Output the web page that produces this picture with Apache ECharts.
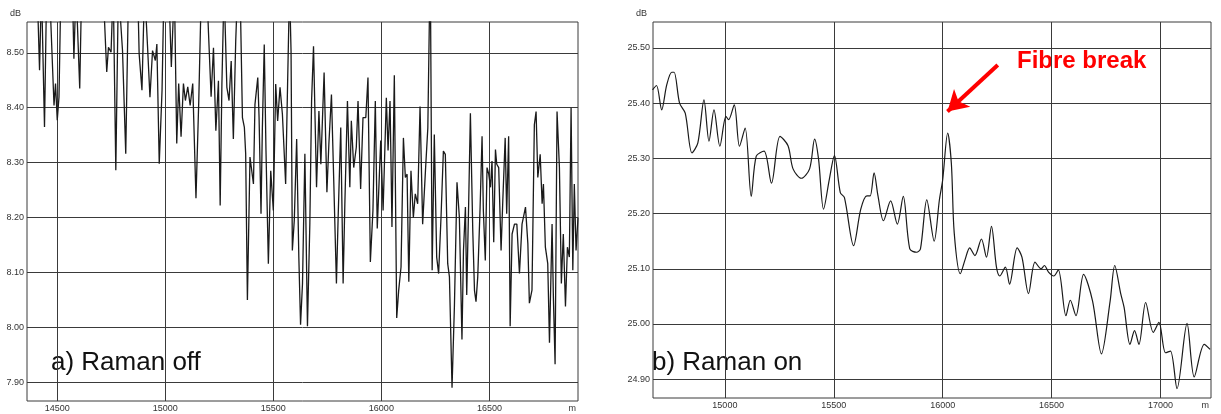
<!DOCTYPE html>
<html>
<head>
<meta charset="utf-8">
<script src="https://cdn.jsdelivr.net/npm/echarts@6/dist/echarts.min.js"></script>
<style>
  html, body { margin: 0; padding: 0; background: #fff; }
  #chart { width: 1221px; height: 414px; }
</style>
</head>
<body>
<div id="chart"></div>
<script>
// a) Raman off - distance (m) and level (dB); values above 8.55 run off the top of the plot
var offDist = [14360, 14407, 14418, 14427, 14441, 14451, 14464, 14485, 14492, 14500, 14508, 14517,
  14570, 14577, 14587, 14604, 14613, 14712, 14729, 14737, 14749, 14759, 14771, 14783, 14802, 14817,
  14830, 14872, 14879, 14892, 14904, 14918, 14929, 14941, 14954, 14961, 14972, 14985, 14994, 15016,
  15028, 15042, 15053, 15062, 15073, 15084, 15093, 15104, 15115, 15127, 15142, 15155, 15167, 15192,
  15200, 15212, 15223, 15234, 15246, 15254, 15262, 15272, 15285, 15295, 15305, 15315, 15326, 15335,
  15346, 15357, 15366, 15372, 15380, 15392, 15408, 15415, 15428, 15434, 15443, 15449, 15458, 15466,
  15477, 15488, 15500, 15511, 15520, 15531, 15542, 15557, 15566, 15575, 15582, 15588, 15597, 15608,
  15618, 15626, 15635, 15646, 15658, 15669, 15677, 15686, 15700, 15711, 15720, 15735, 15748, 15757,
  15769, 15780, 15792, 15800, 15812, 15823, 15831, 15843, 15854, 15861, 15872, 15884, 15892, 15904,
  15915, 15928, 15938, 15949, 15961, 15972, 15981, 15997, 16008, 16023, 16031, 16040, 16045, 16049,
  16060, 16071, 16080, 16091, 16102, 16111, 16119, 16127, 16137, 16148, 16157, 16168, 16179, 16191,
  16204, 16215, 16222, 16227, 16235, 16245, 16256, 16265, 16276, 16287, 16296, 16307, 16315, 16327,
  16338, 16350, 16361, 16373, 16380, 16389, 16395, 16404, 16412, 16423, 16431, 16438, 16446, 16457,
  16466, 16472, 16481, 16489, 16497, 16505, 16512, 16520, 16528, 16534, 16543, 16554, 16562, 16573,
  16580, 16589, 16596, 16605, 16616, 16627, 16639, 16651, 16667, 16678, 16685, 16697, 16708, 16716,
  16724, 16735, 16744, 16750, 16759, 16770, 16778, 16790, 16796, 16804, 16813, 16824, 16833, 16842,
  16852, 16861, 16870, 16878, 16886, 16893, 16901, 16910];
var offDb = [8.62, 8.62, 8.468, 8.62, 8.365, 8.62, 8.62, 8.404, 8.444, 8.377, 8.419, 8.62,
  8.62, 8.489, 8.62, 8.435, 8.62, 8.62, 8.465, 8.510, 8.501, 8.62, 8.286, 8.62, 8.504, 8.316,
  8.62, 8.62, 8.498, 8.432, 8.62, 8.510, 8.419, 8.504, 8.486, 8.516, 8.298, 8.432, 8.62, 8.62,
  8.474, 8.62, 8.335, 8.444, 8.347, 8.444, 8.413, 8.438, 8.404, 8.444, 8.235, 8.413, 8.62, 8.62,
  8.536, 8.420, 8.509, 8.358, 8.449, 8.222, 8.443, 8.62, 8.437, 8.413, 8.485, 8.343, 8.522, 8.62,
  8.62, 8.382, 8.364, 8.316, 8.050, 8.310, 8.261, 8.406, 8.455, 8.382, 8.207, 8.358, 8.515, 8.322,
  8.116, 8.285, 8.213, 8.443, 8.376, 8.437, 8.388, 8.261, 8.443, 8.62, 8.503, 8.140, 8.195, 8.343,
  8.128, 8.005, 8.080, 8.316, 8.002, 8.189, 8.412, 8.512, 8.255, 8.394, 8.297, 8.464, 8.246, 8.334,
  8.424, 8.261, 8.080, 8.201, 8.364, 8.080, 8.225, 8.412, 8.255, 8.376, 8.291, 8.328, 8.412, 8.252,
  8.382, 8.382, 8.455, 8.119, 8.213, 8.412, 8.180, 8.340, 8.213, 8.418, 8.322, 8.412, 8.291, 8.183,
  8.459, 8.017, 8.067, 8.110, 8.345, 8.273, 8.279, 8.083, 8.285, 8.200, 8.243, 8.225, 8.402, 8.188,
  8.285, 8.363, 8.556, 8.62, 8.104, 8.351, 8.128, 8.098, 8.200, 8.321, 8.315, 8.116, 8.092, 7.890,
  8.038, 8.264, 8.200, 7.978, 8.140, 8.219, 8.059, 8.225, 8.390, 8.176, 8.067, 8.047, 8.092, 8.219,
  8.348, 8.213, 8.122, 8.291, 8.279, 8.255, 8.303, 8.155, 8.324, 8.297, 8.291, 8.140, 8.231, 8.345,
  8.207, 8.348, 8.002, 8.170, 8.188, 8.188, 8.098, 8.188, 8.219, 8.152, 8.044, 8.068, 8.369, 8.393,
  8.273, 8.315, 8.225, 8.261, 8.146, 8.116, 7.972, 8.188, 8.056, 7.933, 8.393, 8.291, 8.080, 8.170,
  8.038, 8.146, 8.128, 8.400, 8.104, 8.261, 8.140, 8.200];

// b) Raman on
var onDist = [14668, 14686, 14710, 14733, 14756, 14767, 14792, 14818, 14849, 14876, 14904, 14927,
  14950, 14977, 15005, 15017, 15043, 15067, 15093, 15121, 15144, 15180, 15214, 15253, 15290, 15313,
  15351, 15389, 15412, 15430, 15453, 15480, 15503, 15530, 15549, 15591, 15624, 15652, 15667, 15685,
  15703, 15728, 15761, 15792, 15819, 15849, 15880, 15898, 15927, 15961, 15985, 16000, 16023, 16040,
  16053, 16081, 16104, 16124, 16148, 16178, 16201, 16224, 16247, 16262, 16288, 16307, 16342, 16364,
  16394, 16424, 16452, 16467, 16486, 16510, 16531, 16566, 16586, 16612, 16647, 16688, 16729, 16769,
  16790, 16818, 16833, 16860, 16881, 16901, 16932, 16967, 16993, 17023, 17046, 17076, 17122, 17155,
  17201, 17228];
var onDb = [25.424, 25.432, 25.388, 25.433, 25.456, 25.456, 25.400, 25.382, 25.310, 25.328, 25.406, 25.331,
  25.388, 25.322, 25.376, 25.370, 25.397, 25.322, 25.355, 25.231, 25.304, 25.313, 25.255, 25.340, 25.323, 25.281,
  25.264, 25.281, 25.335, 25.299, 25.208, 25.263, 25.305, 25.238, 25.229, 25.142, 25.208, 25.232, 25.232, 25.274,
  25.232, 25.187, 25.223, 25.181, 25.231, 25.136, 25.130, 25.136, 25.225, 25.150, 25.225, 25.261, 25.346, 25.290,
  25.165, 25.091, 25.118, 25.138, 25.124, 25.154, 25.121, 25.177, 25.103, 25.087, 25.103, 25.072, 25.138, 25.121,
  25.055, 25.112, 25.100, 25.106, 25.094, 25.087, 25.098, 25.015, 25.043, 25.015, 25.090, 25.042, 24.946, 25.042,
  25.106, 25.054, 25.030, 24.963, 24.988, 24.963, 25.039, 24.985, 25.003, 24.948, 24.951, 24.883, 25.001, 24.904,
  24.963, 24.954];

var offXTicks = [14500, 15000, 15500, 16000, 16500];
var offYTicks = [7.9, 8.0, 8.1, 8.2, 8.3, 8.4, 8.5];
var onXTicks = [15000, 15500, 16000, 16500, 17000];
var onYTicks = [24.9, 25.0, 25.1, 25.2, 25.3, 25.4, 25.5];

// arrow for the break: from label down to the peak
var breakFrom = [16253, 25.469];
var breakTo = [16022, 25.385];

function pairs(xs, ys) {
    var out = [];
    for (var i = 0; i < xs.length; i++) out.push([xs[i], ys[i]]);
    return out;
}

var gridLine = { show: true, lineStyle: { color: '#3a3a3a', width: 1 } };
var labelFont = { color: '#333', fontSize: 9, fontFamily: 'Liberation Sans' };

function xAxisOf(idx, min, max, ticks) {
    return {
        type: 'value', gridIndex: idx, min: min, max: max,
        name: 'm', nameLocation: 'end', nameGap: -2,
        nameTextStyle: { color: '#333', fontSize: 9, fontFamily: 'Liberation Sans',
            align: 'right', verticalAlign: 'top', padding: [3, 0, 0, 0] },
        axisLine: { show: false },
        axisTick: { show: false, customValues: ticks },
        axisLabel: Object.assign({ customValues: ticks, margin: 3,
            formatter: function (v) { return String(v); } }, labelFont),
        splitLine: gridLine
    };
}

function yAxisOf(idx, min, max, ticks) {
    return {
        type: 'value', gridIndex: idx, min: min, max: max,
        name: 'dB', nameLocation: 'end', nameGap: 4,
        nameTextStyle: { color: '#333', fontSize: 9, fontFamily: 'Liberation Sans',
            align: 'right', padding: [0, 6, 0, 0] },
        axisLine: { show: false },
        axisTick: { show: false, customValues: ticks },
        axisLabel: Object.assign({ customValues: ticks, margin: 3,
            formatter: function (v) { return v.toFixed(2); } }, labelFont),
        splitLine: gridLine
    };
}

var myChart = echarts.init(document.getElementById('chart'));

var option = {
    animation: false,
    backgroundColor: '#fff',
    grid: [
        { left: 27, top: 22, width: 551, height: 379, show: true, borderColor: '#3a3a3a', borderWidth: 1 },
        { left: 653, top: 22, width: 558, height: 376, show: true, borderColor: '#3a3a3a', borderWidth: 1 }
    ],
    xAxis: [
        xAxisOf(0, 14360, 16910, offXTicks),
        xAxisOf(1, 14670, 17232, onXTicks)
    ],
    yAxis: [
        yAxisOf(0, 7.866, 8.556, offYTicks),
        yAxisOf(1, 24.866, 25.547, onYTicks)
    ],
    series: [
        {
            name: 'Raman off', type: 'line', xAxisIndex: 0, yAxisIndex: 0,
            data: pairs(offDist, offDb), showSymbol: false, clip: true,
            lineStyle: { color: '#1a1a1a', width: 1.3 }
        },
        {
            name: 'Raman on', type: 'line', xAxisIndex: 1, yAxisIndex: 1,
            data: pairs(onDist, onDb), showSymbol: false, smooth: 0.3, clip: true,
            lineStyle: { color: '#1a1a1a', width: 1.2 },
            markLine: {
                silent: true, animation: false,
                symbol: ['none', 'arrow'], symbolSize: [18, 20],
                label: { show: false },
                lineStyle: { color: '#ff0000', width: 4, type: 'solid' },
                data: [[{ coord: breakFrom }, { coord: breakTo }]]
            }
        }
    ],
    graphic: [
        { type: 'text', left: 51, top: 350, style: { text: 'a) Raman off', fill: '#111',
            font: '26px "Liberation Sans", Arial, sans-serif' } },
        { type: 'text', left: 652, top: 350, style: { text: 'b) Raman on', fill: '#111',
            font: '26px "Liberation Sans", Arial, sans-serif' } },
        { type: 'text', left: 1017, top: 49, style: { text: 'Fibre break', fill: '#ff0000',
            font: 'bold 24px "Liberation Sans", Arial, sans-serif' } }
    ]
};

myChart.setOption(option);
window.addEventListener('resize', function () {
    myChart.resize();
});
</script>
</body>
</html>
